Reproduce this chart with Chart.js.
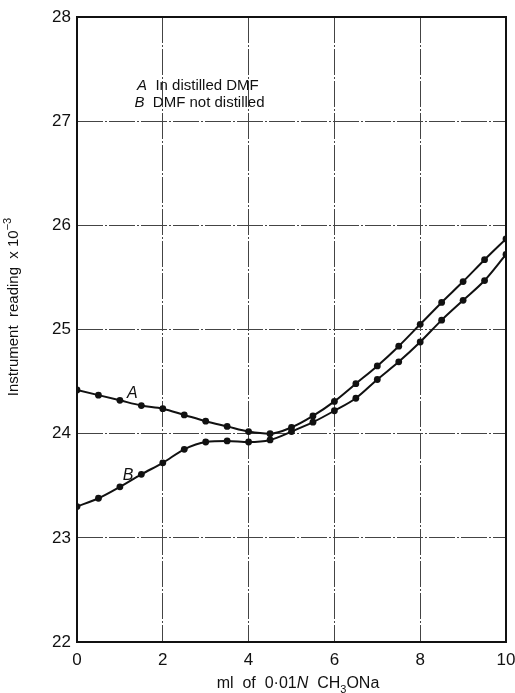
<!DOCTYPE html>
<html>
<head>
<meta charset="utf-8">
<script src="https://cdn.jsdelivr.net/npm/chart.js@4/dist/chart.umd.min.js"></script>
<style>
  html, body { margin: 0; padding: 0; background: #fff; }
  #wrap { width: 515px; height: 693px; }
</style>
</head>
<body>
<div id="wrap"><canvas id="readingChart"></canvas></div>
<script>
// ml of titrant added
const volumes = [0, 0.5, 1, 1.5, 2, 2.5, 3, 3.5, 4, 4.5, 5, 5.5, 6, 6.5, 7, 7.5, 8, 8.5, 9, 9.5, 10];
// A: in distilled DMF
const readingsA = [24.42, 24.37, 24.32, 24.27, 24.24, 24.18, 24.12, 24.07, 24.02, 24.00, 24.06, 24.17,
                   24.31, 24.48, 24.65, 24.84, 25.05, 25.26, 25.46, 25.67, 25.87];
// B: DMF not distilled
const readingsB = [23.30, 23.38, 23.49, 23.61, 23.72, 23.85, 23.92, 23.93, 23.92, 23.94, 24.02, 24.11,
                   24.22, 24.34, 24.52, 24.69, 24.88, 25.09, 25.28, 25.47, 25.72];
const xTicks = [0, 2, 4, 6, 8, 10];
const yTicks = [22, 23, 24, 25, 26, 27, 28];

const FONT = '"Liberation Sans", Arial, sans-serif';

function toPoints(ys) {
    return volumes.map((v, i) => ({ x: v, y: ys[i] }));
}

// draw a row of text pieces (normal / italic / sub / superscript) left to right
function drawRuns(ctx, runs, x, y, align) {
    let total = 0;
    runs.forEach(r => { ctx.font = r.font; total += ctx.measureText(r.t).width; });
    let cx = align === 'center' ? x - total / 2 : x;
    runs.forEach(r => {
        ctx.font = r.font;
        ctx.fillText(r.t, cx, y + (r.dy || 0));
        cx += ctx.measureText(r.t).width;
    });
}

const figureText = {
    id: 'figureText',
    afterDraw(chart) {
        const { ctx, chartArea: a, scales: { x, y } } = chart;
        ctx.save();

        // plot frame
        ctx.strokeStyle = '#111';
        ctx.lineWidth = 2;
        ctx.strokeRect(a.left, a.top, a.right - a.left, a.bottom - a.top);

        ctx.fillStyle = '#111';
        ctx.textBaseline = 'alphabetic';
        ctx.textAlign = 'left';

        // key in the upper left
        const it = 'italic 15px ' + FONT, rg = '15px ' + FONT;
        drawRuns(ctx, [{ t: 'A', font: it }, { t: '  In distilled DMF', font: rg }],
            x.getPixelForValue(1.40), y.getPixelForValue(27.30), 'left');
        drawRuns(ctx, [{ t: 'B', font: it }, { t: '  DMF not distilled', font: rg }],
            x.getPixelForValue(1.34), y.getPixelForValue(27.14), 'left');

        // curve labels
        ctx.textAlign = 'center';
        ctx.font = 'italic 16px ' + FONT;
        ctx.fillText('A', x.getPixelForValue(1.29), y.getPixelForValue(24.34));
        ctx.fillText('B', x.getPixelForValue(1.19), y.getPixelForValue(23.56));
        ctx.textAlign = 'left';

        // x axis title
        const f = '16px ' + FONT;
        drawRuns(ctx, [
            { t: 'ml  of  0·01', font: f },
            { t: 'N', font: 'italic 16px ' + FONT },
            { t: '  CH', font: f },
            { t: '3', font: '11px ' + FONT, dy: 5 },
            { t: 'ONa', font: f }
        ], 298, 688, 'center');

        // y axis title, rotated
        ctx.translate(18, 307);
        ctx.rotate(-Math.PI / 2);
        drawRuns(ctx, [
            { t: 'Instrument  reading  x 10', font: '15px ' + FONT },
            { t: '−3', font: '11px ' + FONT, dy: -7 }
        ], 0, 0, 'center');

        ctx.restore();
    }
};

function lineSet(label, ys) {
    return {
        label: label,
        data: toPoints(ys),
        borderColor: '#111',
        backgroundColor: '#111',
        borderWidth: 2,
        pointRadius: 3.4,
        pointBorderWidth: 0,
        pointBackgroundColor: '#111',
        cubicInterpolationMode: 'monotone',
        fill: false
    };
}

// dashed, slightly broken grid like the printed graph paper
function gridColour(edgeValues) {
    return ctx => edgeValues.includes(ctx.tick && ctx.tick.value) ? 'rgba(0,0,0,0)' : '#444';
}

// fixed axis sizes, and no extra room for the end labels
function fitX(s) {
    s.height = 51;
    s.paddingLeft = 0;
    s.paddingRight = 0;
}
function fitY(s) {
    s.width = 77;
    s.paddingTop = 0;
    s.paddingBottom = 0;
}

new Chart(document.getElementById('readingChart'), {
    type: 'line',
    data: {
        datasets: [lineSet('A', readingsA), lineSet('B', readingsB)]
    },
    options: {
        responsive: true,
        maintainAspectRatio: false,
        animation: false,
        layout: { padding: { top: 17, right: 9, left: 0, bottom: 0 } },
        plugins: {
            legend: { display: false },
            tooltip: { enabled: false }
        },
        scales: {
            x: {
                type: 'linear',
                min: 0,
                max: 10,
                afterBuildTicks: s => { s.ticks = xTicks.map(v => ({ value: v })); },
                afterFit: fitX,
                ticks: {
                    color: '#111',
                    padding: 8,
                    maxRotation: 0,
                    font: { family: FONT, size: 17 }
                },
                grid: { color: gridColour([0, 10]), lineWidth: 1, drawTicks: false },
                border: { display: false, dash: [26, 2, 2, 2] }
            },
            y: {
                min: 22,
                max: 28,
                afterBuildTicks: s => { s.ticks = yTicks.map(v => ({ value: v })); },
                afterFit: fitY,
                ticks: {
                    color: '#111',
                    padding: 6,
                    font: { family: FONT, size: 17 }
                },
                grid: { color: gridColour([22, 28]), lineWidth: 1, drawTicks: false },
                border: { display: false, dash: [26, 2, 2, 2] }
            }
        }
    },
    plugins: [figureText]
});
</script>
</body>
</html>
